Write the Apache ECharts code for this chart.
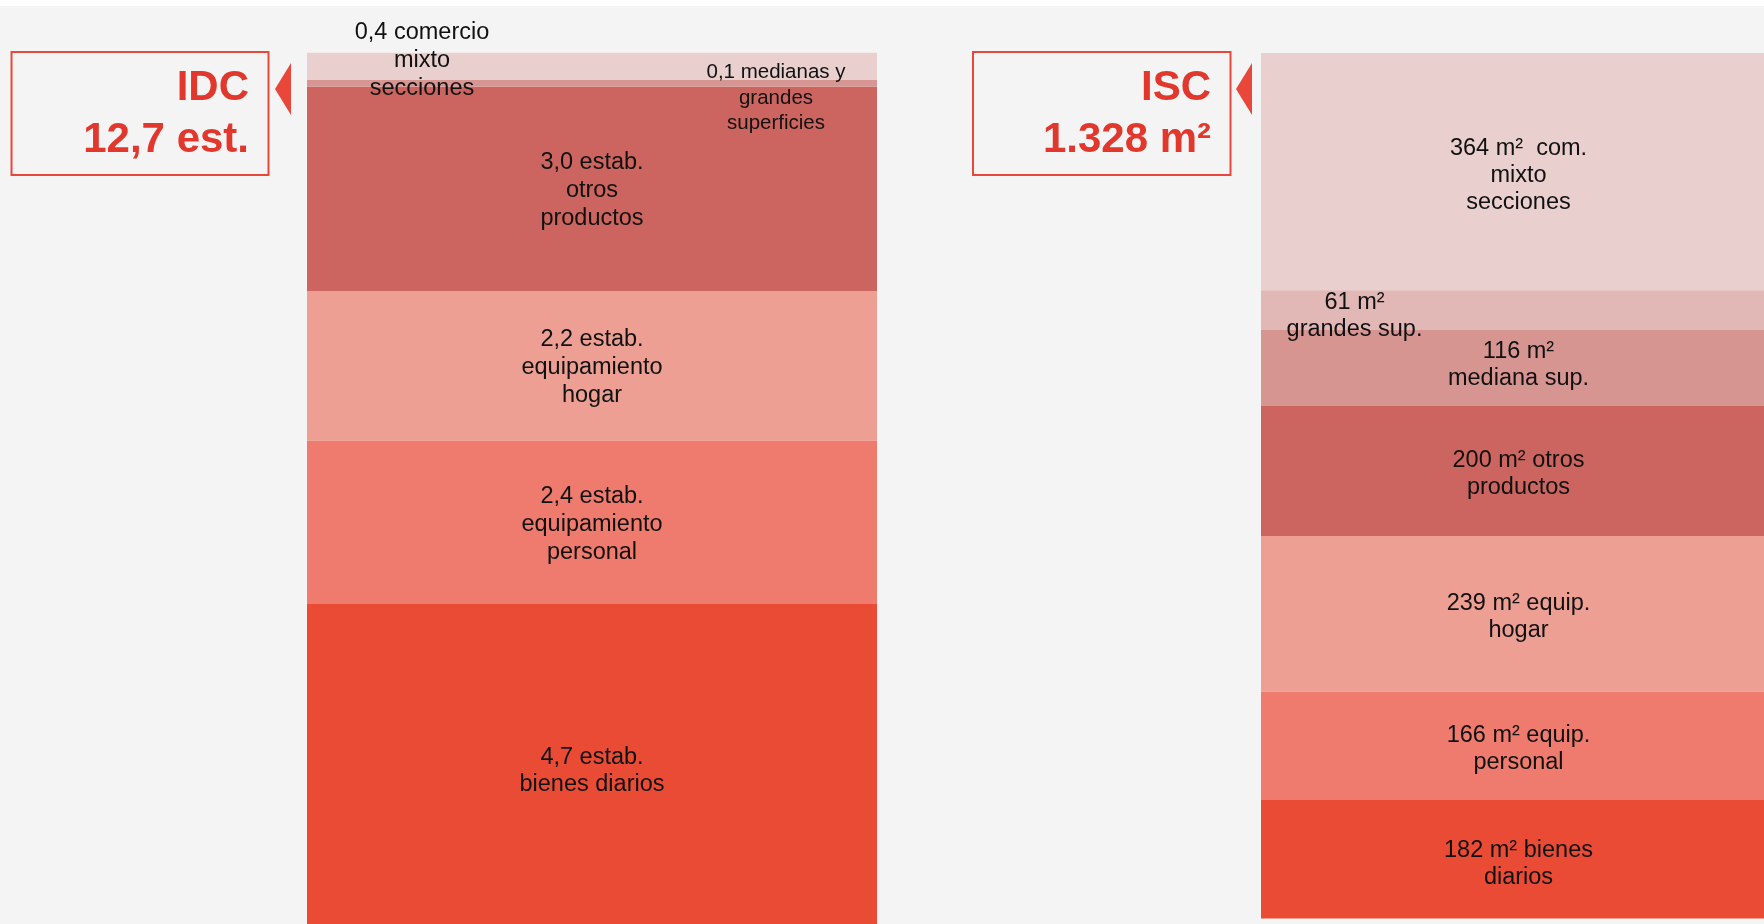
<!DOCTYPE html>
<html>
<head>
<meta charset="utf-8">
<style>
  html, body { margin: 0; padding: 0; background: #f4f4f4; }
  #chart { width: 1764px; height: 924px; }
</style>
<script src="https://cdn.jsdelivr.net/npm/echarts/dist/echarts.min.js"></script>
</head>
<body>
<div id="chart"></div>
<script>
// ---- Data ----
const idcCategories = ['comercio mixto secciones', 'medianas y grandes superficies', 'otros productos', 'equipamiento hogar', 'equipamiento personal', 'bienes diarios'];
const idcValues = [0.4, 0.1, 3.0, 2.2, 2.4, 4.7];
const idcLabels = ['0,4 comercio\nmixto\nsecciones', '0,1 medianas y\ngrandes\nsuperficies', '3,0 estab.\notros\nproductos', '2,2 estab.\nequipamiento\nhogar', '2,4 estab.\nequipamiento\npersonal', '4,7 estab.\nbienes diarios'];

const iscCategories = ['com. mixto secciones', 'grandes sup.', 'mediana sup.', 'otros productos', 'equip. hogar', 'equip. personal', 'bienes diarios'];
const iscValues = [364, 61, 116, 200, 239, 166, 182];
const iscLabels = ['364 m\u00b2  com.\nmixto\nsecciones', '61 m\u00b2\ngrandes sup.', '116 m\u00b2\nmediana sup.', '200 m\u00b2 otros\nproductos', '239 m\u00b2 equip.\nhogar', '166 m\u00b2 equip.\npersonal', '182 m\u00b2 bienes\ndiarios'];

const idcTitle = ['IDC', '12,7 est.'];
const iscTitle = ['ISC', '1.328 m\u00b2'];

// ---- Styles ----
const idcColors = ['#eacfcf', '#d79691', '#cc655f', '#ee9f93', '#ee7b6e', '#e94b35'];
const iscColors = ['#eacfcf', '#e1b8b6', '#d79592', '#cc655f', '#ee9f93', '#ee7b6e', '#e94b35'];
const idcLabelOffsets = [[-170, -6], [184, 15], [0, 2], [0, 2], [0, 2], [0, 7]];
const iscLabelOffsets = [[6, 3.5], [-158, 5.5], [6, -2.5], [6, 3.5], [6, 3.5], [6, 3.5], [6, 4.5]];
const idcLabelSizes = [23.5, 20.5, 23.5, 23.5, 23.5, 23.5];
const idcLabelLH = [28, 25.5, 28, 28, 28, 27];

const FONT = "'Liberation Sans', Arial, sans-serif";
const RED = '#e8473a';
const TITLE_RED = '#e2372c';

const idcTotal = idcValues.reduce((a, b) => a + b, 0);
const iscTotal = iscValues.reduce((a, b) => a + b, 0);

const series = [];
idcValues.forEach((v, i) => {
  series.push({
    type: 'bar', name: idcCategories[i], stack: 'idc',
    xAxisIndex: 0, yAxisIndex: 0,
    barWidth: '100%', z: (i < 2 ? 4 : 2),
    data: [v],
    itemStyle: { color: idcColors[i] },
    label: {
      show: true, position: 'inside', formatter: idcLabels[i],
      color: '#111', fontFamily: FONT, fontSize: idcLabelSizes[i], lineHeight: idcLabelLH[i],
      align: 'center', offset: idcLabelOffsets[i]
    },
    emphasis: { disabled: true }, silent: true
  });
});
iscValues.forEach((v, i) => {
  series.push({
    type: 'bar', name: iscCategories[i], stack: 'isc',
    xAxisIndex: 1, yAxisIndex: 1,
    barWidth: '100%', z: (i === 1 ? 4 : 2),
    data: [v],
    itemStyle: { color: iscColors[i] },
    label: {
      show: true, position: 'inside', formatter: iscLabels[i],
      color: '#111', fontFamily: FONT, fontSize: 23.5, lineHeight: 27,
      align: 'center', offset: iscLabelOffsets[i]
    },
    emphasis: { disabled: true }, silent: true
  });
});

function titleBox(x0, x1, y0, y1, textRight, lines, triX) {
  return [
    { type: 'rect', shape: { x: x0, y: y0, width: x1 - x0, height: y1 - y0 },
      style: { fill: 'none', stroke: RED, lineWidth: 2 }, z: 10 },
    { type: 'polygon', shape: { points: [[triX, 89], [triX + 16, 63], [triX + 16, 115]] },
      style: { fill: RED }, z: 10 },
    { type: 'text', x: textRight, y: 88, z: 10,
      style: { text: lines[0], fill: TITLE_RED, font: 'bold 42px ' + FONT, textAlign: 'right', textVerticalAlign: 'middle' } },
    { type: 'text', x: textRight, y: 140, z: 10,
      style: { text: lines[1], fill: TITLE_RED, font: 'bold 42px ' + FONT, textAlign: 'right', textVerticalAlign: 'middle' } }
  ];
}

const option = {
  backgroundColor: '#f4f4f4',
  animation: false,
  grid: [
    { left: 307, top: 52.7, width: 570, height: idcTotal * 68.4 },
    { left: 1261, top: 53, width: 512, height: 865.5 }
  ],
  xAxis: [
    { type: 'category', gridIndex: 0, data: ['IDC'], show: false, boundaryGap: true },
    { type: 'category', gridIndex: 1, data: ['ISC'], show: false, boundaryGap: true }
  ],
  yAxis: [
    { type: 'value', gridIndex: 0, min: 0, max: idcTotal, inverse: true, show: false },
    { type: 'value', gridIndex: 1, min: 0, max: iscTotal, inverse: true, show: false }
  ],
  series: series,
  graphic: [
    { type: 'rect', shape: { x: 0, y: 0, width: 1764, height: 6 }, style: { fill: '#ffffff' }, z: 20 }
  ].concat(
    titleBox(11.5, 268.5, 52, 175, 249, idcTitle, 275),
    titleBox(973, 1230.5, 52, 175, 1211, iscTitle, 1236)
  )
};

const chart = echarts.init(document.getElementById('chart'), null, { renderer: 'canvas' });
chart.setOption(option);
</script>
</body>
</html>
